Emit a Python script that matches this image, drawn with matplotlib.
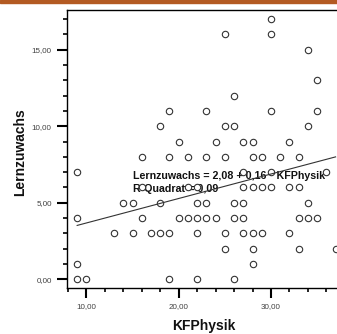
import matplotlib
matplotlib.use("Agg")
import matplotlib.pyplot as plt
from matplotlib.patches import Rectangle
import numpy as np

# Data: (KFPhysik, Lernzuwachs)
kf_physik = [30,
             25, 30,
             34,
             35,
             26,
             19, 23, 30, 35,
             18, 25, 26, 34,
             20, 24, 27, 28, 32,
             16, 19, 21, 23, 25, 28, 29, 31, 33,
             9, 27, 30, 36,
             16, 21, 22, 27, 28, 29, 30, 32, 33,
             14, 15, 18, 22, 23, 26, 27, 34,
             9, 16, 20, 21, 22, 23, 24, 26, 27, 33, 34, 35,
             13, 15, 17, 18, 19, 22, 25, 27, 28, 29, 32,
             25, 28, 33, 37,
             9, 28,
             9, 10, 19, 22, 26]
lernzuwachs = [17,
               16, 16,
               15,
               13,
               12,
               11, 11, 11, 11,
               10, 10, 10, 10,
               9, 9, 9, 9, 9,
               8, 8, 8, 8, 8, 8, 8, 8, 8,
               7, 7, 7, 7,
               6, 6, 6, 6, 6, 6, 6, 6, 6,
               5, 5, 5, 5, 5, 5, 5, 5,
               4, 4, 4, 4, 4, 4, 4, 4, 4, 4, 4, 4,
               3, 3, 3, 3, 3, 3, 3, 3, 3, 3, 3,
               2, 2, 2, 2,
               1, 1,
               0, 0, 0, 0, 0]

intercept = 2.08
slope = 0.16
r_squared = 0.09

x_ticks = [10, 20, 30]
x_ticklabels = ["10,00", "20,00", "30,00"]
y_ticks = [0, 5, 10, 15]
y_ticklabels = ["0,00", "5,00", "10,00", "15,00"]

W, H = 337, 334
fig = plt.figure(figsize=(W / 100, H / 100), dpi=100)
fig.patch.set_facecolor("white")

# axes geometry in pixels
left_px, top_px, bottom_px = 67, 10, 288
xlim = (7.9, 38.0)
px_per_x = 9.23
right_px = left_px + (xlim[1] - xlim[0]) * px_per_x
ax = fig.add_axes([left_px / W, (H - bottom_px) / H,
                   (right_px - left_px) / W, (bottom_px - top_px) / H])
ax.set_xlim(*xlim)
ax.set_ylim(-0.57, 17.6)

fnt = "Liberation Sans"
ax.text(15.0, 6.54, "Lernzuwachs = 2,08 + 0,16 * KFPhysik", family=fnt,
        fontweight="bold", fontsize=7.7, color="#111111", va="baseline",
        ha="left", zorder=2)
ax.text(15.0, 5.73, "R-Quadrat = 0,09", family=fnt, fontweight="bold",
        fontsize=7.7, color="#111111", va="baseline", ha="left", zorder=2)

ax.scatter(kf_physik, lernzuwachs, s=4.6 ** 2, facecolor="white",
           edgecolor="#333333", linewidths=0.8, zorder=3, clip_on=True)

xs = np.array([min(kf_physik), max(kf_physik)])
ax.plot(xs, intercept + slope * xs, color="#333333", lw=0.8, zorder=4)

for s in ax.spines.values():
    s.set_color("black")
    s.set_linewidth(1.0)

ax.set_xticks(x_ticks)
ax.set_xticklabels(x_ticklabels, family=fnt, fontsize=5.8, color="#404040")
ax.set_yticks(y_ticks)
ax.set_yticklabels(y_ticklabels, family=fnt, fontsize=5.8, color="#404040")
ax.set_xticks(np.arange(8, 39, 2), minor=True)
ax.set_yticks(np.arange(0, 18, 1), minor=True)
ax.tick_params(axis="both", which="major", direction="out", length=7.5,
               width=1.5, color="black", pad=3.5)
ax.tick_params(axis="both", which="minor", direction="out", length=2.6,
               width=1.2, color="black")
ax.tick_params(top=False, right=False, which="both")

fig.text(203.5 / W, (H - 330) / H, "KFPhysik", family=fnt, fontweight="bold",
         fontsize=10, ha="center", va="baseline", color="#111111")
fig.text(20 / W, (H - 152) / H, "Lernzuwachs", family=fnt, fontweight="bold",
         fontsize=10, ha="center", va="center", rotation=90, color="#111111")

fig.add_artist(Rectangle((0, 1 - 2.5 / H), 1, 2.5 / H, color="#b35a22",
                         transform=fig.transFigure, zorder=10))

fig.savefig("out.png", dpi=100)
